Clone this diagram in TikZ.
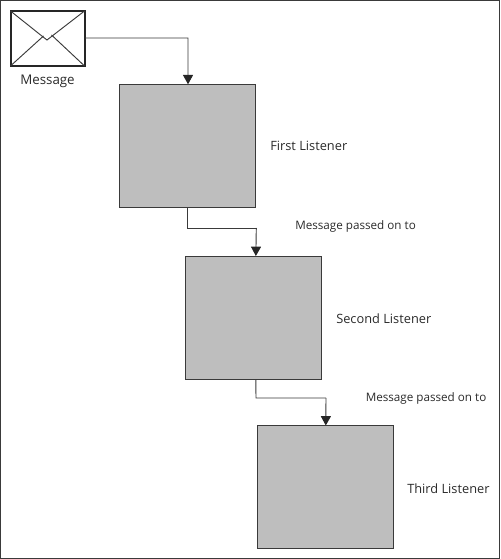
\documentclass[tikz,border=0pt]{standalone}
\usepackage{fontspec}
\setmainfont{Open Sans}
\usetikzlibrary{arrows.meta}
\definecolor{boxgray}{HTML}{BEBEBE}
\definecolor{linegray}{HTML}{3A3A3A}
\definecolor{txt}{HTML}{2A2A2A}
\tikzset{
  x=0.75pt,y=-0.75pt,
  listener/.style={draw=linegray,line width=0.75pt,fill=boxgray,minimum width=102pt,minimum height=92.5pt,inner sep=0pt,outer sep=0pt,anchor=north west},
  envelope/.style={draw=black!85,line width=1.5pt,minimum width=55.5pt,minimum height=41.2pt,inner sep=0pt,outer sep=0pt,anchor=north west},
  lbl/.style={font=\fontsize{9.6pt}{11pt}\selectfont,text=txt,inner sep=0pt,anchor=base west},
  msglbl/.style={lbl,font=\fontsize{10pt}{12pt}\selectfont},
  passlbl/.style={lbl,font=\fontsize{8.75pt}{11pt}\selectfont},
  conn/.style={draw=linegray,line width=0.7pt,-{Triangle[length=7pt,width=7.5pt,color=black!85]}},
  flap/.style={draw=linegray,line width=0.7pt}
}
\begin{document}
\begin{tikzpicture}
\useasboundingbox (0,0) rectangle (500,559);
\draw[draw=linegray,line width=1pt] (0.8,0.8) rectangle (499.4,558.2);
\node[envelope] (env) at (10.5,11) {};
\node[listener] (first) at (119.5,84.3) {};
\node[listener] (second) at (185.7,256) {};
\node[listener] (third) at (257,425.5) {};
\coordinate (fold) at (47,40);
\draw[flap] (env.north west) -- (42.5,36.5) -- (fold) -- (env.north east);
\draw[flap] (env.south west) -- (43.5,36);
\draw[flap] (env.south east) -- (51.5,35);
\node[msglbl] (msg) at (20,85) {Message};
\node[lbl] (l1) at (270,151) {First Listener};
\node[lbl] (l2) at (336,323) {Second Listener};
\node[lbl] (l3) at (407,493) {Third Listener};
\node[passlbl] (p1) at (295,229) {Message passed on to};
\node[passlbl] (p2) at (365.5,401) {Message passed on to};
\draw[conn] (env.east |- 0,38) -- (188,38) -- ([xshift=0.4pt]first.north);
\draw[conn,-] (first.south) -- (187.5,228) -- (256.3,228);
\draw[conn] (256.3,228) -- ([xshift=1.6pt]second.north);
\draw[conn,-] ([xshift=1.6pt]second.south) -- (256,398) -- (326,398);
\draw[conn] (326,398) -- ([xshift=0.6pt]third.north);
\end{tikzpicture}
\end{document}
